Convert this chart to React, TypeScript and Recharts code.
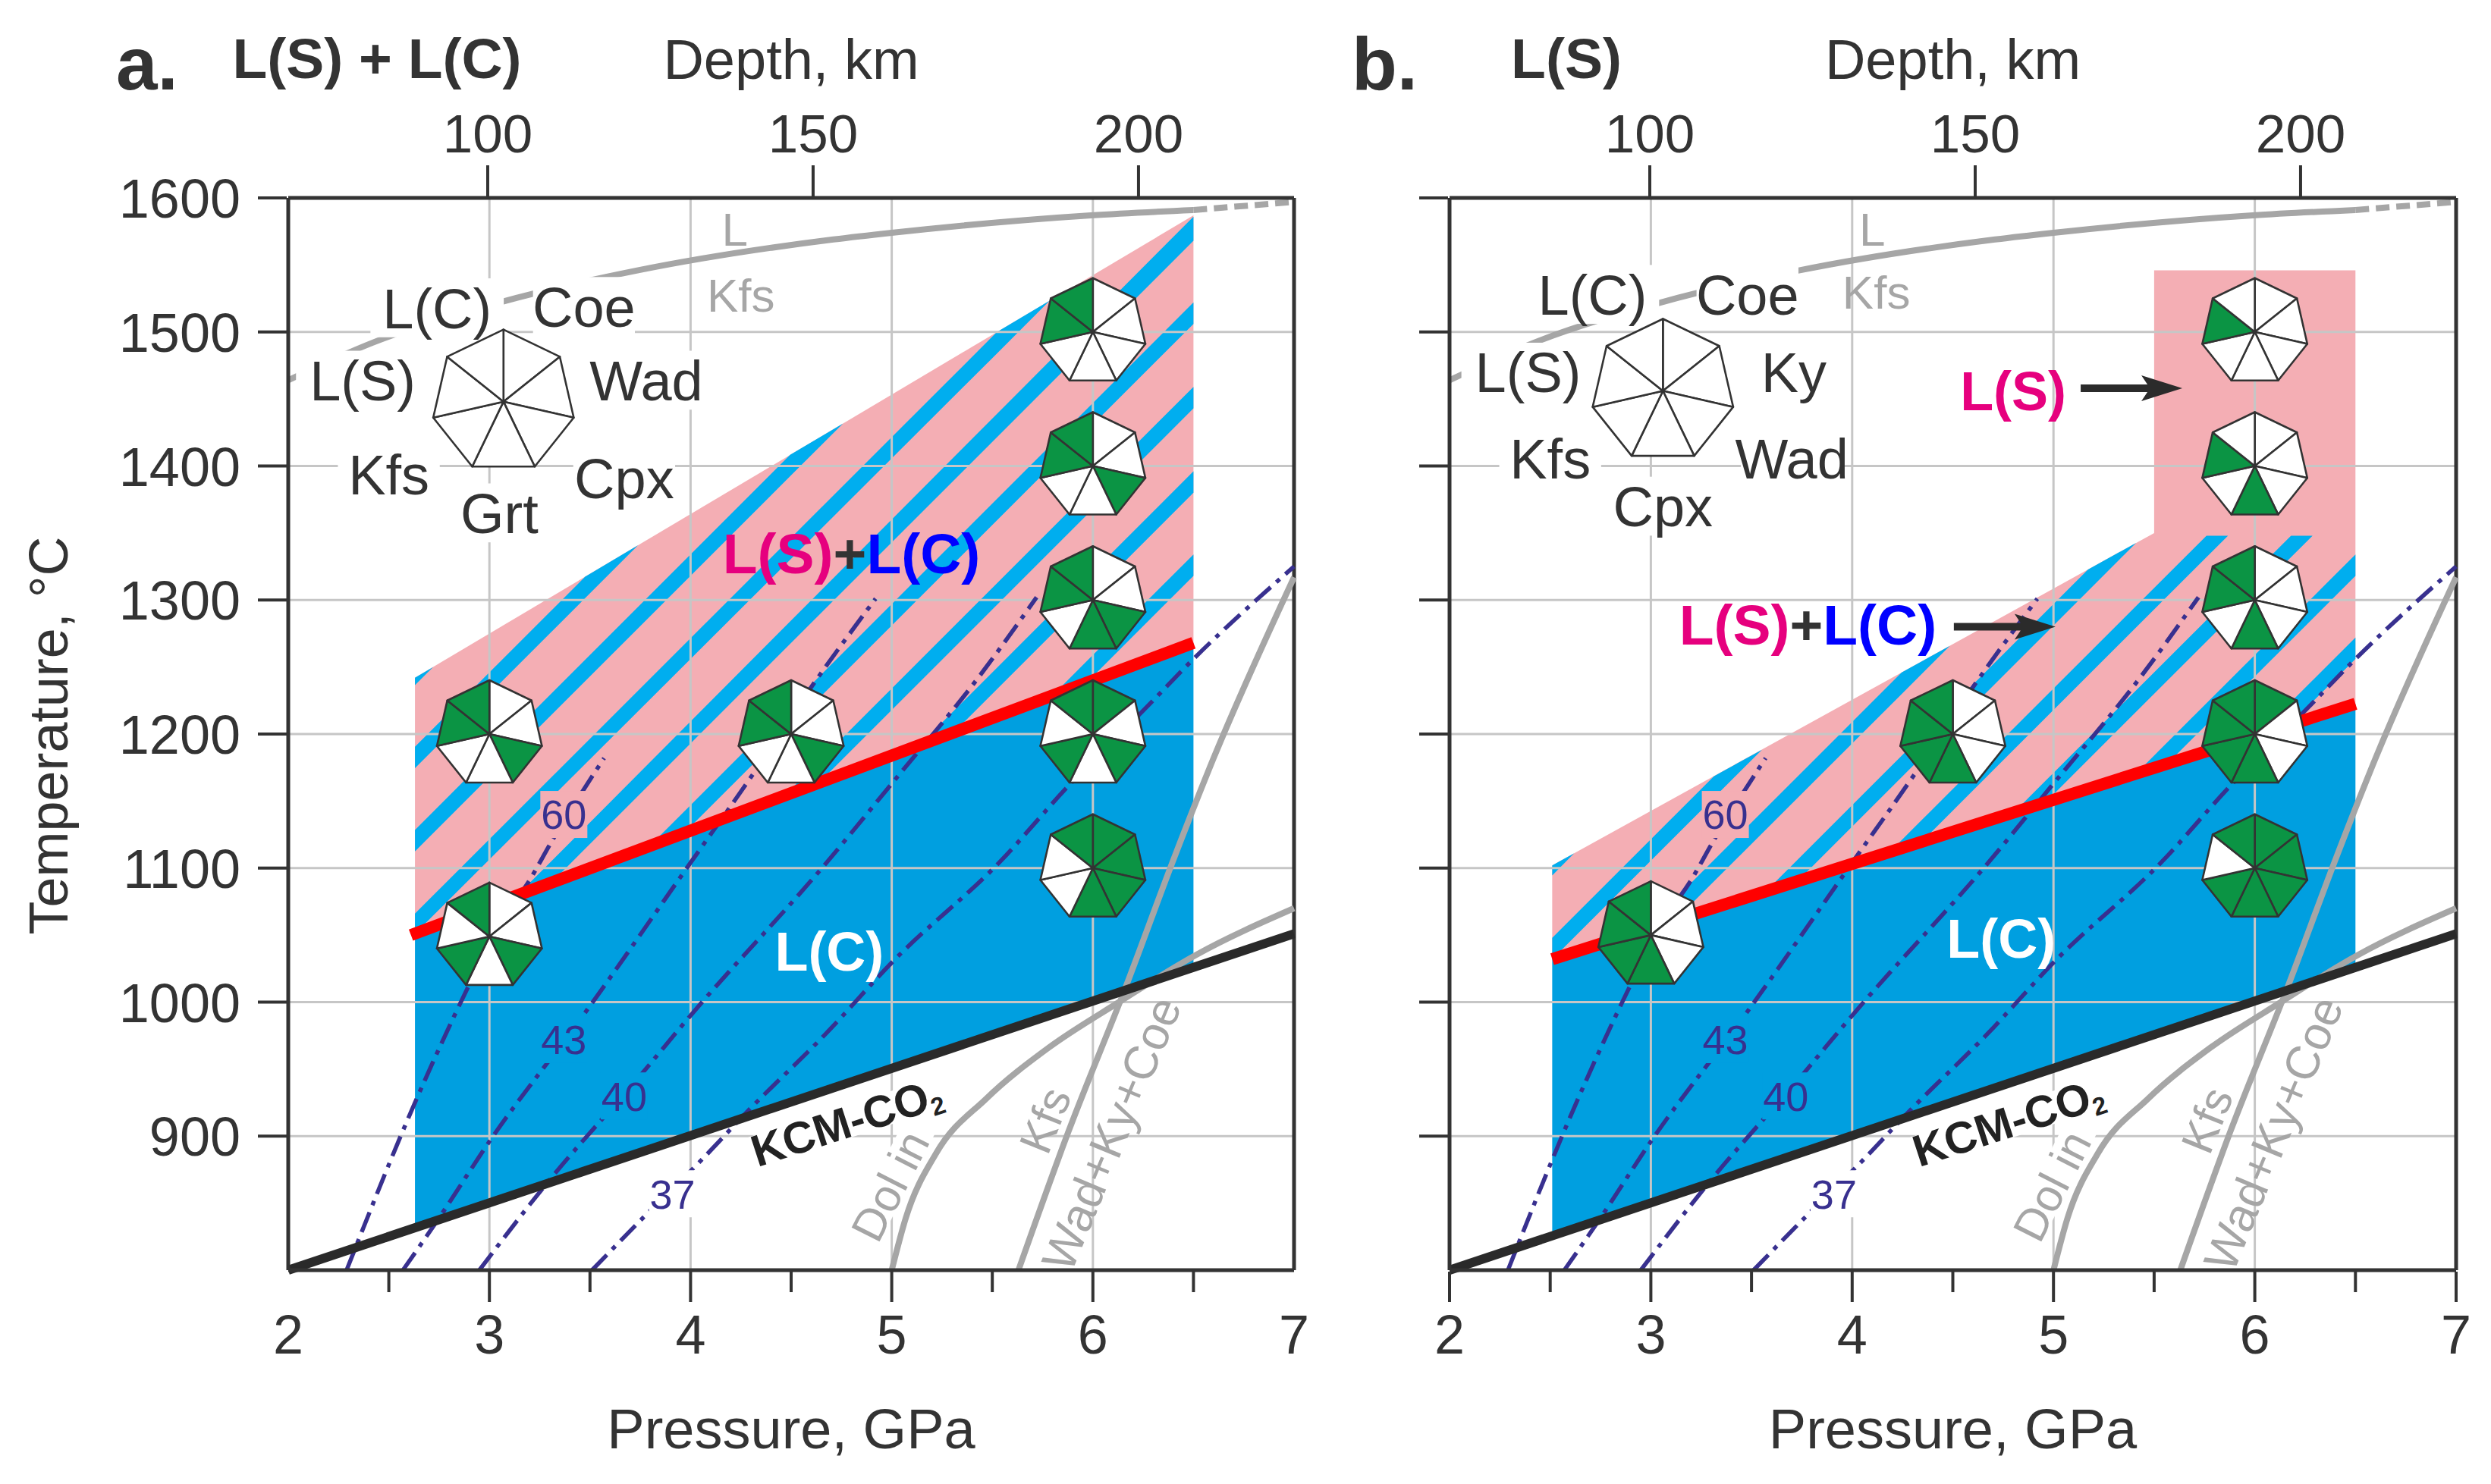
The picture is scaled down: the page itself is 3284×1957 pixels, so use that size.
import { ComposedChart, Area, Line, Scatter, XAxis, YAxis, ReferenceLine } from "recharts";

const FONT = '"Liberation Sans", Arial, sans-serif';
const INK = "#333333";
const GREEN = "#0b9444";
const PINK = "#f4aeb4";
const SOLID_BLUE = "#009fe0";
const STRIPE_BLUE = "#00aeef";
const GREY = "#a6a6a6";
const VIOLET = "#38308f";

// axes
const PRESSURE_TICKS = [2, 2.5, 3, 3.5, 4, 4.5, 5, 5.5, 6, 6.5, 7];
const TEMP_TICKS = [900, 1000, 1100, 1200, 1300, 1400, 1500, 1600];
const DEPTH_TICKS = [100, 150, 200];
const DEPTH_ROWS = [{ depth: 100, t: 1600 }, { depth: 150, t: 1600 }, { depth: 200, t: 1600 }];
const GRID_P = [3, 4, 5, 6];
const GRID_T = [900, 1000, 1100, 1200, 1300, 1400, 1500];

// [pressure, low T, high T]
type Band = [number, number, number][];
const toRows = (b: Band) => b.map(([p, lo, hi]) => ({ p, range: [lo, hi] }));

const PINK_A: Band = [[2.63, 1051, 1242], [6.5, 1268, 1587]];
const BLUE_A: Band = [[2.63, 831.5, 1051], [6.5, 1025, 1268]];
const STRIPES_A: Band[] = [
  [[5.798, 1228.6, 1228.6], [5.968, 1238.2, 1254.2], [6.5, 1318, 1334]],
  [[5.138, 1191.7, 1191.7], [5.308, 1201.2, 1217.2], [6.5, 1380, 1396]],
  [[4.467, 1154.1, 1154.1], [4.638, 1163.6, 1179.7], [6.5, 1443, 1459]],
  [[3.797, 1116.5, 1116.5], [3.967, 1126, 1142], [6.5, 1506, 1522]],
  [[3.137, 1079.5, 1079.5], [3.307, 1089, 1105], [6.5, 1568, 1586]],
  [[2.63, 1051, 1066], [5.522, 1483.8, 1499.8], [5.785, 1523.3, 1523.3]],
  [[2.63, 1112.5, 1128.5], [4.495, 1392.3, 1408.3], [4.758, 1431.7, 1431.7]],
  [[2.63, 1174.5, 1190.5], [3.476, 1301.4, 1317.4], [3.739, 1340.9, 1340.9]],
  [[2.63, 1236.5, 1242], [2.72, 1250, 1250]],
];
const RED_A = [{ p: 2.61, t: 1050 }, { p: 6.5, t: 1268 }];

const PINK_B: Band = [[2.51, 1032, 1102], [5.5, 1174.8, 1350], [5.5, 1174.8, 1546], [6.5, 1222.5, 1546]];
const BLUE_B: Band = [[2.51, 825.5, 1032], [6.5, 1025, 1222.5]];
const STRIPES_B: Band[] = [
  [[6.016, 1199.4, 1199.4], [6.172, 1206.9, 1222.8], [6.5, 1256, 1272]],
  [[5.41, 1170.4, 1170.4], [5.566, 1177.9, 1193.9], [6.5, 1318, 1334]],
  [[4.803, 1141.5, 1141.5], [4.96, 1149, 1165], [6.18, 1332, 1348], [6.287, 1348, 1348]],
  [[4.187, 1112, 1112], [4.344, 1119.5, 1135.6], [5.76, 1332, 1348], [5.867, 1348, 1348]],
  [[3.571, 1082.6, 1082.6], [3.727, 1090, 1106], [5.172, 1306.8, 1322.8], [5.41, 1342.6, 1342.6]],
  [[2.965, 1053.7, 1053.7], [3.121, 1061.2, 1077.1], [4.246, 1229.9, 1245.9], [4.485, 1265.8, 1265.8]],
  [[2.51, 1032, 1048], [3.313, 1152.5, 1168.5], [3.552, 1188.3, 1188.3]],
  [[2.51, 1094.5, 1102], [2.619, 1111, 1111]],
];
const RED_B = [{ p: 2.51, t: 1032 }, { p: 6.5, t: 1222.5 }];

// lines shared by both panels
const KCM_CO2 = [{ p: 2, t: 800 }, { p: 7, t: 1051 }];
const GEOTHERM_60 = [{ p: 2.29, t: 800 }, { p: 2.63, t: 925 }, { p: 2.89, t: 1010 }, { p: 3.05, t: 1058 }, { p: 3.2, t: 1091 }, { p: 3.31, t: 1120 }, { p: 3.57, t: 1182 }];
const GEOTHERM_43 = [{ p: 2.57, t: 800 }, { p: 2.75, t: 839 }, { p: 3, t: 896 }, { p: 3.48, t: 993 }, { p: 4, t: 1104 }, { p: 4.31, t: 1170 }, { p: 4.6, t: 1235 }, { p: 4.92, t: 1301 }];
const GEOTHERM_40 = [{ p: 2.95, t: 800 }, { p: 3.27, t: 862 }, { p: 3.76, t: 947 }, { p: 4, t: 990 }, { p: 4.67, t: 1103 }, { p: 5, t: 1163 }, { p: 5.43, t: 1242 }, { p: 5.72, t: 1302 }];
const GEOTHERM_37 = [{ p: 3.51, t: 800 }, { p: 3.79, t: 843 }, { p: 4.04, t: 880 }, { p: 4.28, t: 918 }, { p: 4.67, t: 976 }, { p: 5.01, t: 1031 }, { p: 5.54, t: 1105 }, { p: 5.87, t: 1160 }, { p: 6.26, t: 1219 }, { p: 6.5, t: 1256 }, { p: 7, t: 1325 }];
const KFS_LIQUIDUS = [{ p: 2, t: 1464 }, { p: 2.42, t: 1492 }, { p: 3.05, t: 1522 }, { p: 3.74, t: 1546 }, { p: 4.71, t: 1569 }, { p: 5, t: 1574 }, { p: 5.99, t: 1587 }, { p: 6.5, t: 1591 }];
const KFS_LIQUIDUS_DASHED = [{ p: 6.5, t: 1591 }, { p: 7, t: 1597 }];
const DOL_IN = [{ p: 5, t: 800 }, { p: 5.07, t: 839 }, { p: 5.22, t: 887 }, { p: 5.47, t: 928 }, { p: 5.78, t: 966 }, { p: 6.13, t: 1000 }, { p: 6.51, t: 1035 }, { p: 7, t: 1070 }];
const KFS_OUT = [{ p: 5.63, t: 800 }, { p: 5.88, t: 904 }, { p: 6.16, t: 1010 }, { p: 6.41, t: 1110 }, { p: 6.6, t: 1182 }, { p: 7, t: 1317 }];
const GEOTHERMS = [GEOTHERM_60, GEOTHERM_43, GEOTHERM_40, GEOTHERM_37];

// labels
const NUM_ON_PINK = [{ p: 3.37, t: 1140, text: "60" }];
const NUM_ON_BLUE = [{ p: 3.37, t: 972, text: "43" }, { p: 3.67, t: 930, text: "40" }];
const NUM_ON_WHITE = [{ p: 3.91, t: 857, text: "37" }];
const GREY_TOP_LABELS_A = [{ p: 4.22, t: 1577, text: "L" }, { p: 4.25, t: 1528, text: "Kfs" }];
const GREY_TOP_LABELS_B = [{ p: 4.1, t: 1577, text: "L" }, { p: 4.12, t: 1530, text: "Kfs" }];
const DOL_LABEL = [{ p: 4.99, t: 863, text: "Dol in" }];
const KFS_LABEL = [{ p: 5.76, t: 912, text: "Kfs" }];
const WAD_LABEL = [{ p: 6.09, t: 902, text: "Wad+Ky+Coe" }];
const KCM_LABEL = [{ p: 4.775, t: 911 }];

const KEY_LABELS_A = [
  { p: 2.74, t: 1518, text: "L(C)" }, { p: 3.47, t: 1519, text: "Coe" }, { p: 2.37, t: 1464, text: "L(S)" },
  { p: 3.78, t: 1464, text: "Wad" }, { p: 2.5, t: 1394, text: "Kfs" }, { p: 3.67, t: 1391, text: "Cpx" }, { p: 3.05, t: 1365, text: "Grt" },
];
const KEY_LABELS_B = [
  { p: 2.71, t: 1528, text: "L(C)" }, { p: 3.48, t: 1528, text: "Coe" }, { p: 2.39, t: 1470, text: "L(S)" },
  { p: 3.71, t: 1470, text: "Ky" }, { p: 2.5, t: 1406, text: "Kfs" }, { p: 3.7, t: 1406, text: "Wad" }, { p: 3.06, t: 1370, text: "Cpx" },
];
const KEY_HEPT_A = [{ p: 3.07, t: 1448, filled: [] as number[] }];
const KEY_HEPT_B = [{ p: 3.06, t: 1456, filled: [] as number[] }];

// sector 0 starts at the top vertex and runs clockwise
const HEPT_A = [
  { p: 6, t: 1500, filled: [5, 6] },
  { p: 6, t: 1400, filled: [2, 5, 6] },
  { p: 6, t: 1300, filled: [2, 3, 5, 6] },
  { p: 6, t: 1200, filled: [0, 2, 4, 6] },
  { p: 6, t: 1100, filled: [0, 1, 2, 3, 6] },
  { p: 4.5, t: 1200, filled: [2, 5, 6] },
  { p: 3, t: 1200, filled: [2, 5, 6] },
  { p: 3, t: 1049, filled: [2, 4, 6] },
];
const HEPT_B = [
  { p: 6, t: 1500, filled: [5] },
  { p: 6, t: 1400, filled: [3, 5] },
  { p: 6, t: 1300, filled: [3, 5, 6] },
  { p: 6, t: 1200, filled: [0, 3, 4, 5, 6] },
  { p: 6, t: 1100, filled: [0, 1, 2, 3, 4, 6] },
  { p: 4.5, t: 1200, filled: [3, 4, 5, 6] },
  { p: 3, t: 1050, filled: [3, 4, 5, 6] },
];

const MIX_LABEL_A = [{ p: 4.8, t: 1335 }];
const MIX_LABEL_B = [{ p: 3.78, t: 1282 }];
const LC_LABEL_A = [{ p: 4.69, t: 1038, text: "L(C)" }];
const LC_LABEL_B = [{ p: 4.74, t: 1048, text: "L(C)" }];
const LS_LABEL_B = [{ p: 4.8, t: 1456, text: "L(S)" }];
const ARROWS_B = [{ p: 5.64, t: 1458 }, { p: 5.01, t: 1280 }];

function Hept({ cx, cy, payload, r }: any) {
  const verts = Array.from({ length: 7 }, (_, i) => {
    const a = -Math.PI / 2 + (i * 2 * Math.PI) / 7;
    return [cx + r * Math.cos(a), cy + r * Math.sin(a)];
  });
  return (
    <g>
      {verts.map((v, i) => {
        const n = verts[(i + 1) % 7];
        return (
          <polygon
            key={i}
            points={`${cx},${cy} ${v[0]},${v[1]} ${n[0]},${n[1]}`}
            fill={payload.filled.includes(i) ? GREEN : "#ffffff"}
            stroke={INK}
            strokeWidth={2.6}
            strokeLinejoin="round"
          />
        );
      })}
    </g>
  );
}

const labelShape = (o: { size: number; color: string; bold?: boolean; bg?: string; angle?: number; boxW?: number; boxH?: number }) => (props: any) => {
  const { cx, cy, payload } = props;
  const w = o.boxW ?? payload.text.length * o.size * 0.56 + 10;
  const h = o.boxH ?? o.size * 1.05;
  return (
    <g transform={`rotate(${o.angle ?? 0} ${cx} ${cy})`}>
      {o.bg && <rect x={cx - w / 2} y={cy - h / 2} width={w} height={h} fill={o.bg} />}
      <text x={cx} y={cy} dy="0.36em" textAnchor="middle" fontFamily={FONT} fontSize={o.size} fill={o.color} fontWeight={o.bold ? "bold" : "normal"}>
        {payload.text}
      </text>
    </g>
  );
};

const mixShape = ({ cx, cy }: any) => (
  <text x={cx} y={cy} dy="0.36em" textAnchor="middle" fontFamily={FONT} fontSize={75} fontWeight="bold">
    <tspan fill="#e6007e">L(S)</tspan>
    <tspan fill={INK}>+</tspan>
    <tspan fill="#0000ff">L(C)</tspan>
  </text>
);

const kcmShape = ({ cx, cy }: any) => (
  <g transform={`rotate(-18 ${cx} ${cy})`}>
    <rect x={cx - 138} y={cy - 20} width={276} height={42} fill="#ffffff" />
    <text x={cx} y={cy} dy="0.36em" textAnchor="middle" fontFamily={FONT} fontSize={59} fontWeight="bold" fill="#222222">
      KCM-CO<tspan fontSize={33} dy={8}>2</tspan>
    </text>
  </g>
);

const arrowShape = ({ cx, cy }: any) => (
  <polygon
    transform={`translate(${cx} ${cy})`}
    points="-134,-5 -46,-5 -54,-17 0,0 -54,17 -46,5 -134,5"
    fill="#2b2b2b"
  />
);

type PanelProps = {
  left: number;
  width: number;
  plotLeft: number;
  plotRight: number;
  depthDomain: [number, number];
  letter: string;
  letterX: number;
  title: string;
  titleX: number;
  showTempLabels: boolean;
  edgeTicks: boolean;
  pink: Band;
  blue: Band;
  stripes: Band[];
  red: { p: number; t: number }[];
  hept: any[];
  keyHept: any[];
  keyLabels: any[];
  greyLabels: any[];
  mix: any[];
  lc: any[];
  children?: any;
};

const PLOT_TOP = 261;
const PLOT_BOTTOM = 1675;
const HEIGHT = 1957;

function Panel(f: PanelProps) {
  const centerX = (f.plotLeft + f.plotRight) / 2;
  const xTick = ({ x, y, payload }: any) => {
    const v = payload.value;
    const major = Number.isInteger(v);
    const edge = v === 2 || v === 7;
    return (
      <g>
        {(!edge || f.edgeTicks) && <line x1={x} x2={x} y1={y} y2={y + (major ? 40 : 27)} stroke={INK} strokeWidth={4} />}
        {major && (
          <text x={x} y={y + 108} textAnchor="middle" fontFamily={FONT} fontSize={72} fill={INK}>
            {v}
          </text>
        )}
      </g>
    );
  };
  const yTick = ({ x, y, payload }: any) => (
    <g>
      <line x1={x - 38} x2={x} y1={y} y2={y} stroke={INK} strokeWidth={4} />
      {f.showTempLabels && (
        <text x={x - 61} y={y + 26} textAnchor="end" fontFamily={FONT} fontSize={72} fill={INK}>
          {payload.value}
        </text>
      )}
    </g>
  );
  const depthTick = ({ x, y, payload }: any) => (
    <g>
      <line x1={x} x2={x} y1={y - 41} y2={y} stroke={INK} strokeWidth={4} />
      <text x={x} y={y - 58} textAnchor="middle" fontFamily={FONT} fontSize={71} fill={INK}>
        {payload.value}
      </text>
    </g>
  );
  return (
    <div style={{ position: "absolute", left: f.left, top: -8, width: f.width, height: HEIGHT }}>
      <ComposedChart
        width={f.width}
        height={HEIGHT}
        margin={{ top: 0, right: f.width - f.plotRight, bottom: 0, left: 0 }}
      >
        <XAxis
          dataKey="p"
          type="number"
          domain={[2, 7]}
          ticks={PRESSURE_TICKS}
          interval={0}
          height={HEIGHT - PLOT_BOTTOM}
          tickSize={0}
          tickLine={false}
          tick={xTick}
          axisLine={{ stroke: INK, strokeWidth: 5 }}
          label={{
            value: "Pressure, GPa",
            content: () => (
              <text x={centerX} y={1910} textAnchor="middle" fontFamily={FONT} fontSize={74} fill={INK}>
                Pressure, GPa
              </text>
            ),
          }}
        />
        <XAxis
          xAxisId="depth"
          dataKey="depth"
          orientation="top"
          type="number"
          domain={f.depthDomain}
          allowDataOverflow
          ticks={DEPTH_TICKS}
          interval={0}
          height={PLOT_TOP}
          tickSize={0}
          tickLine={false}
          tick={depthTick}
          axisLine={{ stroke: INK, strokeWidth: 5 }}
          label={{
            value: "Depth, km",
            content: () => (
              <g fontFamily={FONT} fill={INK}>
                <text x={centerX} y={104} textAnchor="middle" fontSize={74}>Depth, km</text>
                <text x={f.letterX} y={118} fontSize={98} fontWeight="bold">{f.letter}</text>
                <text x={f.titleX} y={103} textAnchor="middle" fontSize={75} fontWeight="bold">{f.title}</text>
              </g>
            ),
          }}
        />
        <YAxis
          dataKey="t"
          type="number"
          domain={[800, 1600]}
          ticks={TEMP_TICKS}
          interval={0}
          width={f.plotLeft}
          tickSize={0}
          tickLine={false}
          tick={yTick}
          axisLine={{ stroke: INK, strokeWidth: 5 }}
          label={
            f.showTempLabels
              ? {
                  value: "Temperature, °C",
                  content: () => (
                    <text
                      x={89}
                      y={970}
                      transform="rotate(-90 89 970)"
                      textAnchor="middle"
                      fontFamily={FONT}
                      fontSize={72}
                      fill={INK}
                    >
                      Temperature, °C
                    </text>
                  ),
                }
              : undefined
          }
        />

        <Scatter xAxisId="depth" data={DEPTH_ROWS} shape={() => <g />} isAnimationActive={false} />

        <Area data={toRows(f.pink)} dataKey="range" type="linear" fill={PINK} fillOpacity={1} stroke="none" dot={false} activeDot={false} isAnimationActive={false} />
        {f.stripes.map((s, i) => (
          <Area key={i} data={toRows(s)} dataKey="range" type="linear" fill={STRIPE_BLUE} fillOpacity={1} stroke="none" dot={false} activeDot={false} isAnimationActive={false} />
        ))}
        <Area data={toRows(f.blue)} dataKey="range" type="linear" fill={SOLID_BLUE} fillOpacity={1} stroke="none" dot={false} activeDot={false} isAnimationActive={false} />

        {GRID_P.map((p) => (
          <ReferenceLine key={p} x={p} stroke="#c6c6c6" strokeWidth={3} />
        ))}
        {GRID_T.map((t) => (
          <ReferenceLine key={t} y={t} stroke="#c6c6c6" strokeWidth={3} />
        ))}
        <ReferenceLine x={7} stroke={INK} strokeWidth={5} />

        <Line data={KFS_LIQUIDUS} dataKey="t" type="monotone" stroke={GREY} strokeWidth={8} dot={false} activeDot={false} isAnimationActive={false} />
        <Line data={KFS_LIQUIDUS_DASHED} dataKey="t" type="linear" stroke={GREY} strokeWidth={8} strokeDasharray="18 9" dot={false} activeDot={false} isAnimationActive={false} />
        <Line data={DOL_IN} dataKey="t" type="monotone" stroke={GREY} strokeWidth={8} dot={false} activeDot={false} isAnimationActive={false} />
        <Line data={KFS_OUT} dataKey="t" type="monotone" stroke={GREY} strokeWidth={8} dot={false} activeDot={false} isAnimationActive={false} />
        {GEOTHERMS.map((g, i) => (
          <Line key={i} data={g} dataKey="t" type="monotone" stroke={VIOLET} strokeWidth={5.5} strokeDasharray="28 10 6 10" dot={false} activeDot={false} isAnimationActive={false} />
        ))}
        <Line data={f.red} dataKey="t" type="linear" stroke="#ff0000" strokeWidth={16} dot={false} activeDot={false} isAnimationActive={false} />
        <Line data={KCM_CO2} dataKey="t" type="linear" stroke="#2a2a2a" strokeWidth={12} dot={false} activeDot={false} isAnimationActive={false} />

        <Scatter data={NUM_ON_PINK} shape={labelShape({ size: 54, color: VIOLET, bg: PINK, boxW: 62, boxH: 62 })} isAnimationActive={false} />
        <Scatter data={NUM_ON_BLUE} shape={labelShape({ size: 54, color: VIOLET, bg: SOLID_BLUE, boxW: 62, boxH: 62 })} isAnimationActive={false} />
        <Scatter data={NUM_ON_WHITE} shape={labelShape({ size: 54, color: VIOLET, bg: "#ffffff", boxW: 62, boxH: 62 })} isAnimationActive={false} />
        <Scatter data={f.greyLabels} shape={labelShape({ size: 62, color: GREY })} isAnimationActive={false} />
        <Scatter data={DOL_LABEL} shape={labelShape({ size: 60, color: GREY, bg: "#ffffff", angle: -63, boxH: 44 })} isAnimationActive={false} />
        <Scatter data={KFS_LABEL} shape={labelShape({ size: 60, color: GREY, angle: -68 })} isAnimationActive={false} />
        <Scatter data={WAD_LABEL} shape={labelShape({ size: 62, color: GREY, angle: -67.5 })} isAnimationActive={false} />
        <Scatter data={KCM_LABEL} shape={kcmShape} isAnimationActive={false} />
        <Scatter data={f.keyLabels} shape={labelShape({ size: 74, color: INK, bg: "#ffffff" })} isAnimationActive={false} />
        <Scatter data={f.keyHept} shape={(p: any) => <Hept {...p} r={95} />} isAnimationActive={false} />
        <Scatter data={f.hept} shape={(p: any) => <Hept {...p} r={71} />} isAnimationActive={false} />
        <Scatter data={f.mix} shape={mixShape} isAnimationActive={false} />
        <Scatter data={f.lc} shape={labelShape({ size: 72, color: "#ffffff", bold: true })} isAnimationActive={false} />
        {f.children}
      </ComposedChart>
    </div>
  );
}

export default function App() {
  return (
    <div style={{ position: "relative", width: 3276, height: 1949 }}>
      <Panel
        left={-8}
        width={1760}
        plotLeft={380}
        plotRight={1706}
        depthDomain={[69.35, 223.9]}
        letter="a."
        letterX={153}
        title="L(S) + L(C)"
        titleX={497}
        showTempLabels
        edgeTicks={false}
        pink={PINK_A}
        blue={BLUE_A}
        stripes={STRIPES_A}
        red={RED_A}
        hept={HEPT_A}
        keyHept={KEY_HEPT_A}
        keyLabels={KEY_LABELS_A}
        greyLabels={GREY_TOP_LABELS_A}
        mix={MIX_LABEL_A}
        lc={LC_LABEL_A}
      />
      <Panel
        left={1752}
        width={1524}
        plotLeft={151}
        plotRight={1478}
        depthDomain={[69.23, 223.9]}
        letter="b."
        letterX={22}
        title="L(S)"
        titleX={305}
        showTempLabels={false}
        edgeTicks
        pink={PINK_B}
        blue={BLUE_B}
        stripes={STRIPES_B}
        red={RED_B}
        hept={HEPT_B}
        keyHept={KEY_HEPT_B}
        keyLabels={KEY_LABELS_B}
        greyLabels={GREY_TOP_LABELS_B}
        mix={MIX_LABEL_B}
        lc={LC_LABEL_B}
      >
        <Scatter data={LS_LABEL_B} shape={labelShape({ size: 72, color: "#e6007e", bold: true })} isAnimationActive={false} />
        <Scatter data={ARROWS_B} shape={arrowShape} isAnimationActive={false} />
      </Panel>
    </div>
  );
}
